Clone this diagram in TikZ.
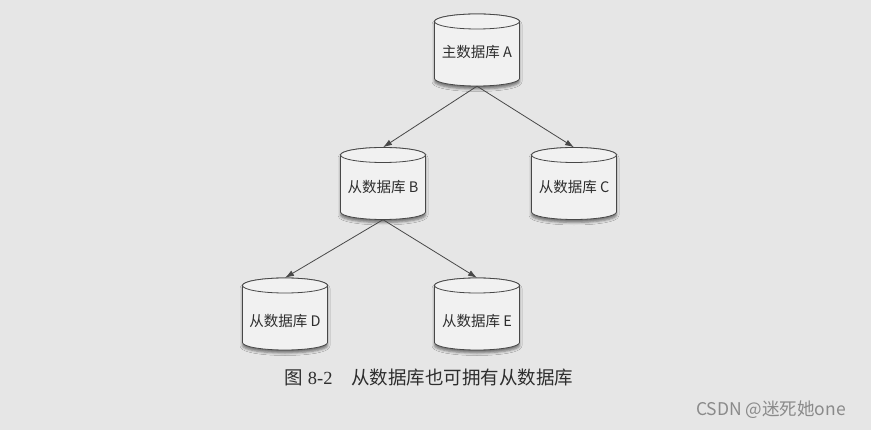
\documentclass[tikz,border=0pt]{standalone}
\usepackage{fontspec}
\setmainfont{Liberation Serif}
\newfontfamily\cjk{Noto Sans CJK SC}
\usetikzlibrary{arrows.meta,shadows.blur}
\definecolor{bgc}{HTML}{E6E6E6}
\definecolor{cylfill}{HTML}{F1F1F1}
\definecolor{cylline}{HTML}{484848}
\definecolor{txtc}{HTML}{2E2E2E}
\definecolor{wmc}{HTML}{8A8A8A}
\tikzset{
  dbbody/.style={fill=cylfill, draw=cylline, line width=0.8pt,
    blur shadow={shadow xshift=0pt, shadow yshift=-3pt, shadow blur radius=2.5pt, shadow opacity=50}},
  dbtop/.style={fill=cylfill, draw=cylline, line width=0.8pt},
  dbnode/.style={minimum width=85pt, minimum height=72pt, inner sep=0pt},
  dblabel/.style={font=\cjk\fontsize{14.5}{16}\selectfont, text=txtc, inner sep=0pt},
  link/.style={draw=cylline, line width=0.8pt, -{Latex[length=9pt,width=6pt]}},
}
% name, cx, cy (centre of cylinder), text offset, text
\newcommand\dbcyl[5]{%
  \path[dbbody] ({#2-42.5},{#3+28.5}) -- ({#2-42.5},{#3-28.5})
     arc[start angle=180,end angle=360,x radius=42.5pt,y radius=7.5pt]
     -- ({#2+42.5},{#3+28.5})
     arc[start angle=0,end angle=180,x radius=42.5pt,y radius=7.5pt] -- cycle;
  \path[dbtop] (#2,{#3+28.5}) ellipse[x radius=42.5pt,y radius=7.5pt];
  \node[dbnode, label={[dblabel, yshift=#4]center:#5}] (#1) at (#2,#3) {};
}
\begin{document}
\begin{tikzpicture}[x=1pt,y=1pt]
\fill[bgc] (0,0) rectangle (871,-430);
\useasboundingbox (0,0) rectangle (871,-430);
\dbcyl{A}{477}{-50}{-2pt}{主数据库 A}
\dbcyl{B}{383}{-183.5}{-3.5pt}{从数据库 B}
\dbcyl{C}{574}{-183.5}{-3.5pt}{从数据库 C}
\dbcyl{D}{285}{-314}{-7pt}{从数据库 D}
\dbcyl{E}{477}{-314}{-7pt}{从数据库 E}
\draw[link] (A.south) -- (B.north);
\draw[link] (A.south) -- (C.north);
\draw[link] (B.south) -- (D.north);
\draw[link] (B.south) -- (E.north);
\node[text=txtc, font=\fontsize{18.5}{20}\selectfont] (cap) at (429,-378)
  {{\cjk 图} 8-2\hspace{1em}{\cjk 从数据库也可拥有从数据库}};
\node[text=wmc, font=\cjk\fontsize{17.5}{19}\selectfont] (wm) at (771,-410) {CSDN @迷死她one};
\end{tikzpicture}
\end{document}
